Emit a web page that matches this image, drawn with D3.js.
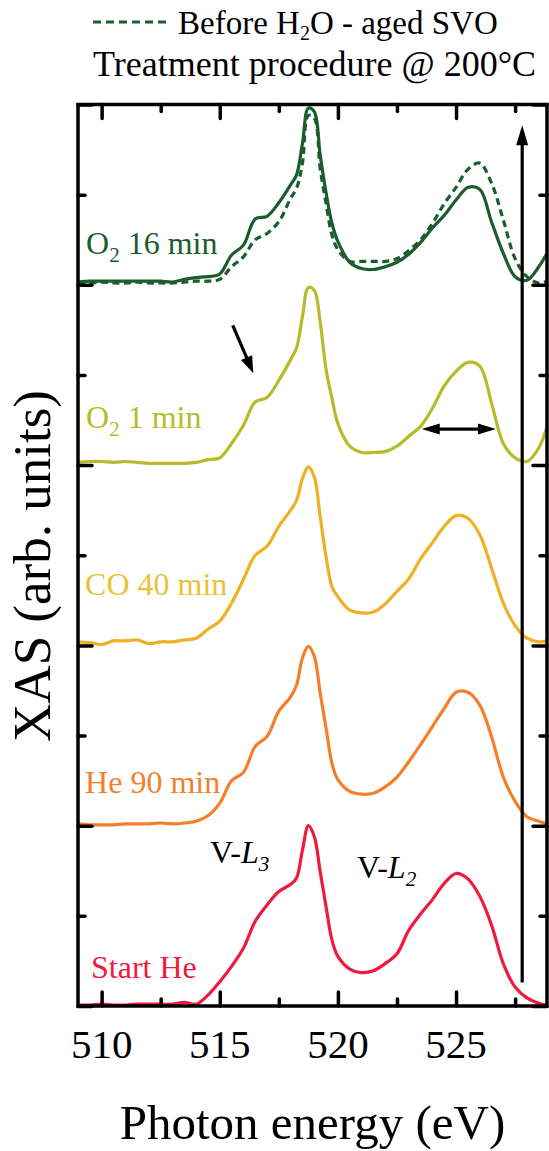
<!DOCTYPE html>
<html><head><meta charset="utf-8">
<script src="https://cdn.jsdelivr.net/npm/d3@7"></script>
<style>
html,body{margin:0;padding:0;background:#fff;}
svg{display:block;}
text{font-family:"Liberation Serif","Times New Roman",serif;}
</style></head>
<body>
<svg id="chart" width="549" height="1151"></svg>
<script>
// ---------- data (photon energy in eV, XAS intensity in arb. units, stacked) ----------
const energy = [509,509.5,510,510.5,511,511.5,512,512.5,513,513.5,
  514,514.5,515,515.5,516,516.5,517,517.5,518,
  518.25,518.5,518.75,519,519.25,519.5,519.75,
  520,520.5,521,521.5,522,522.5,523,523.5,524,524.5,525,525.5,526,526.5,527,527.5,528,528.5,528.85];

const startHe = [0.01,0.01,0.02,0.01,0.01,0.02,0.02,0.02,0.02,0.04,
  0.02,0.12,0.27,0.44,0.64,0.94,1.12,1.27,1.35,
  1.42,1.73,2.00,1.88,1.49,1.10,0.73,
  0.55,0.41,0.37,0.39,0.47,0.58,0.84,1.02,1.18,1.36,1.47,1.41,1.22,0.90,0.47,0.21,0.09,0.03,0.01];

const he90 = [2.02,2.01,2.01,2.01,2.02,2.02,2.02,2.03,2.02,2.03,
  2.05,2.11,2.25,2.50,2.59,2.88,2.99,3.27,3.43,
  3.56,3.86,3.99,3.88,3.47,3.08,2.69,
  2.51,2.38,2.35,2.36,2.43,2.54,2.71,2.90,3.10,3.30,3.48,3.48,3.34,2.99,2.54,2.27,2.10,2.05,2.02];

const co40 = [4.04,4.03,4.01,4.05,4.05,4.06,4.02,4.04,4.04,4.06,
  4.08,4.18,4.27,4.47,4.73,5.00,5.10,5.32,5.50,
  5.61,5.85,5.98,5.87,5.43,4.98,4.65,
  4.54,4.39,4.36,4.37,4.46,4.60,4.74,4.96,5.14,5.32,5.44,5.41,5.23,4.86,4.47,4.22,4.08,4.04,4.05];

const o2_1 = [6.03,6.04,6.04,6.03,6.04,6.03,6.02,6.02,6.02,6.02,
  6.03,6.06,6.08,6.24,6.44,6.70,6.75,6.94,7.17,
  7.30,7.65,7.97,7.94,7.59,7.06,6.74,
  6.46,6.21,6.14,6.14,6.15,6.21,6.32,6.43,6.63,6.88,7.04,7.14,7.10,6.69,6.24,6.08,6.04,6.19,6.43];

const o2_16 = [8.03,8.04,8.04,8.04,8.04,8.04,8.04,8.04,8.03,8.06,
  8.08,8.09,8.12,8.33,8.44,8.73,8.76,8.91,9.11,
  9.22,9.57,9.96,9.92,9.44,9.02,8.68,
  8.48,8.25,8.18,8.17,8.20,8.25,8.34,8.47,8.63,8.77,8.94,9.08,9.06,8.70,8.35,8.09,8.05,8.20,8.35];

const beforeH2O = [8.02,8.02,8.03,8.02,8.02,8.03,8.02,8.02,8.02,8.03,
  8.04,8.04,8.06,8.20,8.31,8.50,8.57,8.70,8.96,
  9.07,9.35,9.88,9.85,9.29,8.90,8.55,
  8.39,8.26,8.26,8.26,8.26,8.29,8.38,8.50,8.68,8.90,9.08,9.28,9.35,9.13,8.72,8.29,8.09,8.02,8.04];

const seriesLabels = ["Start He","He 90 min","CO 40 min","O2 1 min","O2 16 min","Before H2O - aged SVO"];
const xMajorTicks = [510,515,520,525];
const xMinorTicks = [512.5,517.5,522.5,527.5];
const yMajorTicks = [0,2,4,6,8,10];
const yMinorTicks = [1,3,5,7,9];

// ---------- styling ----------
const C = {
  start:"#ef1a3d", he:"#f47f2b", co:"#efb024", coLabel:"#e8c232",
  o21:"#b6bb29", o216:"#1c5d2e"
};

const svg = d3.select("#chart");
const x = d3.scaleLinear().domain([509, 528.85]).range([78, 547]);
const y = d3.scaleLinear().domain([0, 10]).range([1006, 104.5]);

svg.append("defs").append("clipPath").attr("id","plotclip")
  .append("rect").attr("x",78).attr("y",104.5).attr("width",469).attr("height",901.5);

const line = d3.line().x(d=>x(d[0])).y(d=>y(d[1])).curve(d3.curveCatmullRom.alpha(0.5));
const zip = vals => energy.map((e,i)=>[e, vals[i]]);

const series = [
  {vals:startHe, color:C.start},
  {vals:he90, color:C.he},
  {vals:co40, color:C.co},
  {vals:o2_1, color:C.o21},
  {vals:beforeH2O, color:C.o216, dash:"7,4.5"},
  {vals:o2_16, color:C.o216}
];
const gLines = svg.append("g").attr("clip-path","url(#plotclip)");
series.forEach(s=>{
  gLines.append("path").attr("d", line(zip(s.vals)))
    .attr("fill","none").attr("stroke", s.color).attr("stroke-width",3.2)
    .attr("stroke-linejoin","round").attr("stroke-linecap", s.dash ? "butt" : "round")
    .attr("stroke-dasharray", s.dash || null);
});

// ---------- axes (inward ticks on all four sides) ----------
function tickAxis(gen, ticks, size, tr){
  const g = svg.append("g").attr("transform", tr)
    .call(gen.tickValues(ticks).tickSize(size).tickFormat(""));
  g.select(".domain").remove();
  g.selectAll(".tick line").attr("stroke","#000").attr("stroke-width",3.5).attr("stroke-linecap","round");
  return g;
}
tickAxis(d3.axisBottom(x), xMajorTicks, -14, "translate(0,1006)");
tickAxis(d3.axisBottom(x), xMinorTicks, -7, "translate(0,1006)");
tickAxis(d3.axisTop(x), xMajorTicks, -14, "translate(0,104.5)");
tickAxis(d3.axisTop(x), xMinorTicks, -7, "translate(0,104.5)");
tickAxis(d3.axisLeft(y), yMajorTicks, -14, "translate(78,0)");
tickAxis(d3.axisLeft(y), yMinorTicks, -7, "translate(78,0)");
tickAxis(d3.axisRight(y), yMajorTicks, -14, "translate(547,0)");
tickAxis(d3.axisRight(y), yMinorTicks, -7, "translate(547,0)");

svg.append("rect").attr("x",78).attr("y",104.5).attr("width",469).attr("height",901.5)
  .attr("fill","none").attr("stroke","#000").attr("stroke-width",3.5);

// tick labels
svg.append("g").selectAll("text").data(xMajorTicks).join("text")
  .attr("x", d=>x(d)).attr("y",1058).attr("text-anchor","middle")
  .attr("font-size",41).attr("fill","#000").text(d=>d);

// axis titles
svg.append("text").attr("x",312.5).attr("y",1139).attr("text-anchor","middle")
  .attr("font-size",49).attr("fill","#000").text("Photon energy (eV)");
svg.append("text").attr("transform","translate(49.5,566) rotate(-90)")
  .attr("text-anchor","middle").attr("font-size",53).attr("fill","#000").text("XAS (arb. units)");

// ---------- arrows ----------
function arrowHead(x1,y1,x2,y2,len,hw){
  const a = Math.atan2(y2-y1,x2-x1);
  const bx = x2 - len*Math.cos(a), by = y2 - len*Math.sin(a);
  const px = -Math.sin(a)*hw, py = Math.cos(a)*hw;
  return `M${x2},${y2}L${bx+px},${by+py}L${bx-px},${by-py}Z`;
}
function arrow(e1,v1,e2,v2,both,len,hw){
  const X1=x(e1),Y1=y(v1),X2=x(e2),Y2=y(v2);
  const a = Math.atan2(Y2-Y1,X2-X1);
  const sx = both ? X1 + (len-2)*Math.cos(a) : X1, sy = both ? Y1 + (len-2)*Math.sin(a) : Y1;
  const ex = X2 - (len-2)*Math.cos(a), ey = Y2 - (len-2)*Math.sin(a);
  svg.append("line").attr("x1",sx).attr("y1",sy).attr("x2",ex).attr("y2",ey)
    .attr("stroke","#000").attr("stroke-width",3.2);
  svg.append("path").attr("d",arrowHead(X1,Y1,X2,Y2,len,hw)).attr("fill","#000");
  if(both) svg.append("path").attr("d",arrowHead(X2,Y2,X1,Y1,len,hw)).attr("fill","#000");
}
arrow(527.8, 0.26, 527.8, 9.77, false, 20, 6);
arrow(515.55, 7.55, 516.42, 7.02, false, 17, 6);
arrow(523.55, 6.40, 526.69, 6.40, true, 18, 5.5);

// ---------- labels ----------
function richText(parts, e, v, color, size){
  const t = svg.append("text").attr("x", x(e)).attr("y", y(v))
    .attr("font-size", size).attr("fill", color);
  let shifted = 0;
  parts.forEach(p=>{
    const ts = t.append("tspan").text(p.t);
    if(p.i) ts.attr("font-style","italic");
    if(p.sub){ ts.attr("font-size", size*0.66).attr("dy", 8 - shifted); shifted = 8; }
    else if(shifted){ ts.attr("dy", -shifted); shifted = 0; }
  });
  return t;
}
richText([{t:"O"},{t:"2",sub:true},{t:" 16 min"}], 509.34, 8.34, C.o216, 32);
richText([{t:"O"},{t:"2",sub:true},{t:" 1 min"}], 509.34, 6.41, C.o21, 32);
richText([{t:"CO 40 min"}], 509.30, 4.56, C.coLabel, 32);
richText([{t:"He 90 min"}], 509.30, 2.36, C.he, 32);
richText([{t:"Start He"}], 509.55, 0.31, C.start, 32);
richText([{t:"V-"},{t:"L",i:true},{t:"3",i:true,sub:true}], 514.59, 1.59, "#000", 32);
richText([{t:"V-"},{t:"L",i:true},{t:"2",i:true,sub:true}], 520.81, 1.42, "#000", 32);

// ---------- legend / title ----------
svg.append("line").attr("x1",93).attr("x2",171).attr("y1",22).attr("y2",22)
  .attr("stroke",C.o216).attr("stroke-width",3.2).attr("stroke-dasharray","8,5");
{
  const t = svg.append("text").attr("x",178).attr("y",34).attr("font-size",33).attr("fill","#000");
  t.append("tspan").text("Before H");
  t.append("tspan").text("2").attr("font-size",20).attr("dy",6);
  t.append("tspan").text("O - aged SVO").attr("dy",-6);
}
svg.append("text").attr("x",93).attr("y",76).attr("font-size",36).attr("fill","#000")
  .text("Treatment procedure @ 200°C");
</script>
</body></html>
